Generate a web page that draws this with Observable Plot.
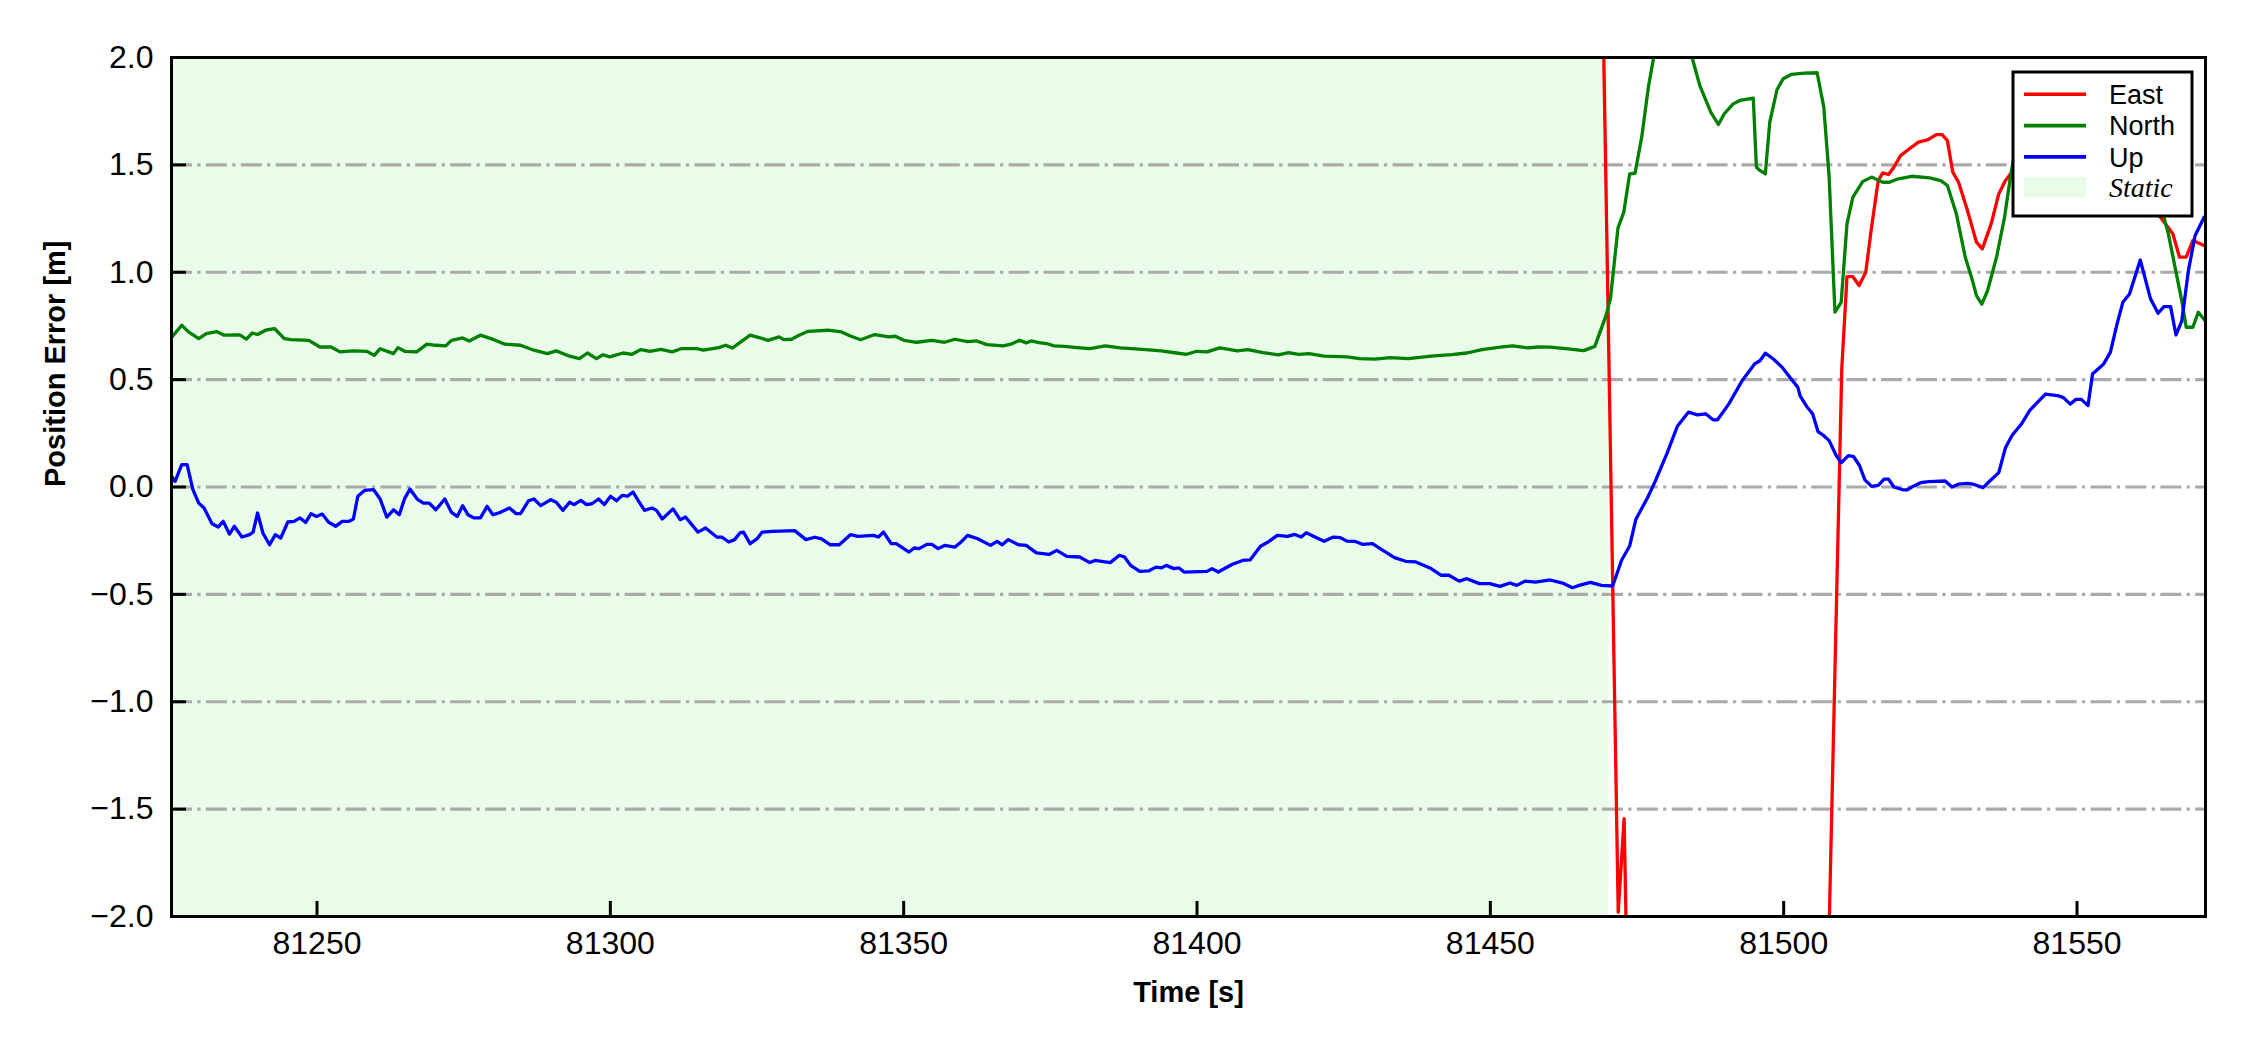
<!DOCTYPE html>
<html><head><meta charset="utf-8">
<script src="https://cdn.jsdelivr.net/npm/d3@7"></script>
<script src="https://cdn.jsdelivr.net/npm/@observablehq/plot@0.6"></script>
<style>html,body{margin:0;padding:0;background:#fff;}#chart{width:2250px;height:1050px;}</style>
</head><body><div id="chart"></div>
<script>
// ---- data ----
const xDomain = [81225.2, 81571.9];
const yDomain = [-2, 2];
const xTicks = [81250, 81300, 81350, 81400, 81450, 81500, 81550];
const yTicks = [-2, -1.5, -1, -0.5, 0, 0.5, 1, 1.5, 2];
const gridY = [-1.5, -1, -0.5, 0, 0.5, 1, 1.5];
const staticSpan = [{start: 81225.2, end: 81470.2}];
const seriesNames = ["East", "North", "Up"];
const seriesColors = ["#ff0000", "#008000", "#0000ff"];
const staticLabel = "Static";

const eastT = [81468.8, 81471.8, 81472.8, 81473.8, 81506.8, 81509.9, 81510.79, 81511.78, 81512.85, 81513.99, 81514.98, 81516.12, 81516.88, 81517.87, 81518.78, 81519.92, 81521.44, 81522.97, 81524.49, 81526.01, 81527.0, 81527.91, 81528.82, 81529.81, 81531.33, 81532.86, 81533.85, 81535.37, 81536.66, 81537.8, 81539.32, 81543, 81548, 81553, 81558, 81563, 81566.33, 81567.47, 81568.61, 81569.75, 81571.66];
const eastV = [2.87, -1.98, -1.544, -3.0, -3.2, 0.55, 0.98, 0.98, 0.938, 1.0, 1.21, 1.427, 1.463, 1.455, 1.489, 1.543, 1.575, 1.606, 1.616, 1.641, 1.641, 1.613, 1.466, 1.419, 1.287, 1.14, 1.109, 1.225, 1.365, 1.427, 1.481, 1.6, 1.65, 1.58, 1.45, 1.3, 1.179, 1.07, 1.07, 1.148, 1.125];

const northT = [81225.2, 81226.95, 81228.09, 81229.84, 81231.13, 81232.87, 81234.17, 81236.83, 81237.97, 81238.95, 81239.87, 81241.23, 81242.75, 81244.43, 81245.56, 81248.6, 81250.5, 81252.4, 81253.92, 81256.2, 81258.48, 81259.77, 81260.76, 81263.04, 81263.8, 81264.94, 81266.99, 81268.74, 81270.26, 81271.93, 81272.92, 81274.82, 81275.96, 81277.86, 81280.14, 81282.04, 81284.7, 81286.98, 81289.26, 81290.78, 81293.06, 81294.73, 81296.1, 81297.62, 81298.76, 81299.9, 81302.17, 81303.69, 81305.21, 81306.73, 81308.63, 81310.53, 81312.05, 81314.71, 81315.85, 81318.51, 81319.65, 81320.79, 81323.83, 81325.35, 81326.87, 81328.77, 81329.53, 81330.9, 81332.19, 81333.71, 81337.13, 81339.41, 81340.92, 81342.66, 81345.09, 81347.43, 81348.56, 81350.04, 81352.21, 81354.82, 81356.99, 81358.72, 81360.89, 81362.46, 81364.19, 81366.97, 81368.27, 81369.75, 81370.88, 81371.75, 81373.05, 81374.35, 81375.65, 81377.39, 81379.56, 81381.73, 81384.34, 81386.94, 81391.28, 81393.89, 81396.49, 81398.23, 81399.97, 81401.7, 81403.87, 81406.91, 81408.65, 81411.25, 81413.86, 81415.6, 81417.33, 81419.07, 81421.67, 81425.58, 81427.75, 81430.36, 81432.96, 81436.0, 81439.91, 81443.38, 81445.98, 81448.59, 81452.06, 81453.8, 81456.4, 81458.14, 81460.2, 81463.24, 81465.91, 81467.81, 81469.71, 81470.47, 81471.76, 81472.75, 81473.74, 81474.66, 81475.8, 81476.94, 81477.85, 81479.5, 81481.5, 81483.2, 81484.39, 81485.69, 81487.59, 81488.88, 81489.87, 81491.39, 81492.53, 81494.82, 81495.35, 81495.81, 81496.87, 81497.63, 81498.85, 81499.91, 81501.28, 81503.57, 81505.7, 81506.84, 81507.75, 81508.74, 81509.8, 81510.79, 81511.78, 81513.46, 81514.98, 81516.88, 81518.02, 81519.54, 81521.82, 81524.87, 81526.77, 81527.91, 81529.43, 81530.95, 81532.1, 81532.86, 81533.77, 81534.76, 81536.28, 81537.65, 81538.56, 81539.32, 81542, 81546, 81550, 81555, 81560, 81564.81, 81565.57, 81566.71, 81567.85, 81568.61, 81569.75, 81570.67, 81571.81];
const northV = [0.696, 0.753, 0.722, 0.691, 0.714, 0.724, 0.707, 0.708, 0.689, 0.717, 0.71, 0.73, 0.738, 0.691, 0.686, 0.683, 0.652, 0.652, 0.629, 0.634, 0.632, 0.613, 0.644, 0.621, 0.649, 0.632, 0.629, 0.665, 0.66, 0.657, 0.683, 0.694, 0.68, 0.707, 0.686, 0.665, 0.66, 0.637, 0.621, 0.634, 0.609, 0.598, 0.624, 0.598, 0.616, 0.606, 0.624, 0.618, 0.64, 0.632, 0.641, 0.629, 0.644, 0.644, 0.637, 0.649, 0.66, 0.647, 0.707, 0.696, 0.683, 0.699, 0.686, 0.688, 0.707, 0.725, 0.73, 0.722, 0.703, 0.686, 0.71, 0.699, 0.702, 0.683, 0.674, 0.683, 0.674, 0.688, 0.677, 0.68, 0.663, 0.657, 0.665, 0.683, 0.671, 0.68, 0.672, 0.668, 0.657, 0.655, 0.649, 0.644, 0.657, 0.648, 0.64, 0.634, 0.624, 0.618, 0.632, 0.629, 0.648, 0.634, 0.64, 0.626, 0.615, 0.626, 0.618, 0.621, 0.609, 0.606, 0.598, 0.595, 0.602, 0.598, 0.609, 0.616, 0.624, 0.64, 0.652, 0.657, 0.648, 0.652, 0.651, 0.643, 0.635, 0.655, 0.798, 0.876, 1.207, 1.28, 1.458, 1.461, 1.629, 1.862, 2.002, 2.2, 2.27, 2.15, 2.0, 1.87, 1.745, 1.688, 1.738, 1.784, 1.8, 1.811, 1.489, 1.477, 1.458, 1.699, 1.849, 1.901, 1.921, 1.927, 1.929, 1.769, 1.443, 0.814, 0.86, 1.225, 1.349, 1.422, 1.443, 1.419, 1.419, 1.435, 1.447, 1.439, 1.427, 1.404, 1.272, 1.07, 0.969, 0.891, 0.852, 0.915, 1.07, 1.256, 1.427, 1.551, 1.72, 1.8, 1.75, 1.55, 1.35, 1.256, 1.179, 1.023, 0.868, 0.744, 0.744, 0.814, 0.775];

const upT = [81225.2, 81225.81, 81226.95, 81227.86, 81228.85, 81229.84, 81230.75, 81232.11, 81233.18, 81234.01, 81235.08, 81235.91, 81237.21, 81238.5, 81239.11, 81239.87, 81240.78, 81241.92, 81242.9, 81243.82, 81245.03, 81246.1, 81247.08, 81248.07, 81248.98, 81249.9, 81250.88, 81252.02, 81253.16, 81254.3, 81255.44, 81256.2, 81256.96, 81258.1, 81259.62, 81260.76, 81261.9, 81263.04, 81264.03, 81264.94, 81265.85, 81267.07, 81268.13, 81269.12, 81270.26, 81271.78, 81272.92, 81273.91, 81274.82, 81275.73, 81276.72, 81277.86, 81279.0, 81279.99, 81281.28, 81282.8, 81283.94, 81284.7, 81286.07, 81286.98, 81288.12, 81289.87, 81290.78, 81291.92, 81293.06, 81293.82, 81294.96, 81295.94, 81296.86, 81298.0, 81298.98, 81300.05, 81301.04, 81302.02, 81302.94, 81303.85, 81304.84, 81305.82, 81307.11, 81307.87, 81308.86, 81310.69, 81311.9, 81312.82, 81314.94, 81316.23, 81318.13, 81319.05, 81320.19, 81321.18, 81322.09, 81322.7, 81323.83, 81324.98, 81325.89, 81327.64, 81331.43, 81333.33, 81334.85, 81335.99, 81337.51, 81339.03, 81340.92, 81342.23, 81344.83, 81345.7, 81346.57, 81347.87, 81348.74, 81350.91, 81351.78, 81352.64, 81353.95, 81354.82, 81355.86, 81356.99, 81358.72, 81359.59, 81360.89, 81362.63, 81364.8, 81365.93, 81366.8, 81367.84, 81369.58, 81370.88, 81372.62, 81374.79, 81376.09, 81377.82, 81380.0, 81381.73, 81382.6, 81385.21, 81386.77, 81387.64, 81388.68, 81390.24, 81391.72, 81393.02, 81393.89, 81394.76, 81396.06, 81396.93, 81397.8, 81401.7, 81402.57, 81403.61, 81406.04, 81407.78, 81409.08, 81410.82, 81412.12, 81413.68, 81415.42, 81416.64, 81417.77, 81418.63, 81420.11, 81421.67, 81423.24, 81424.45, 81425.58, 81426.88, 81428.18, 81429.92, 81431.22, 81433.66, 81435.56, 81437.3, 81439.91, 81441.64, 81442.94, 81444.68, 81445.98, 81448.15, 81449.89, 81451.63, 81453.36, 81454.49, 81455.97, 81457.71, 81460.2, 81462.48, 81464.0, 81465.15, 81467.05, 81468.95, 81470.85, 81472.37, 81473.74, 81474.81, 81476.79, 81478.08, 81480.13, 81481.88, 81483.79, 81485.31, 81486.68, 81487.97, 81488.73, 81490.63, 81492.91, 81495.04, 81495.96, 81496.87, 81498.24, 81499.76, 81501.28, 81502.42, 81502.8, 81503.95, 81504.93, 81505.85, 81506.76, 81507.75, 81508.89, 81509.8, 81511.02, 81511.93, 81512.92, 81513.84, 81514.98, 81516.12, 81517.11, 81517.87, 81518.78, 81520.3, 81521.06, 81522.2, 81523.35, 81524.72, 81527.53, 81528.67, 81529.81, 81531.33, 81532.32, 81533.99, 81535.14, 81536.66, 81537.8, 81538.94, 81540.46, 81541.98, 81543.13, 81544.65, 81546.93, 81547.69, 81548.83, 81549.82, 81550.73, 81551.88, 81552.64, 81554.54, 81555.68, 81556.82, 81557.81, 81558.95, 81560.78, 81562.53, 81563.82, 81564.81, 81565.95, 81566.87, 81567.85, 81568.99, 81570.13, 81571.66];
const upV = [0.05, 0.026, 0.104, 0.104, -0.012, -0.075, -0.098, -0.171, -0.186, -0.16, -0.219, -0.183, -0.233, -0.222, -0.21, -0.121, -0.214, -0.269, -0.222, -0.238, -0.163, -0.16, -0.144, -0.165, -0.124, -0.137, -0.126, -0.165, -0.183, -0.16, -0.16, -0.149, -0.043, -0.016, -0.012, -0.056, -0.14, -0.106, -0.129, -0.054, -0.009, -0.056, -0.075, -0.075, -0.106, -0.056, -0.118, -0.137, -0.087, -0.129, -0.144, -0.144, -0.09, -0.129, -0.118, -0.098, -0.124, -0.124, -0.064, -0.056, -0.087, -0.059, -0.071, -0.109, -0.071, -0.082, -0.062, -0.082, -0.078, -0.056, -0.082, -0.043, -0.064, -0.039, -0.043, -0.023, -0.067, -0.109, -0.098, -0.109, -0.149, -0.102, -0.152, -0.14, -0.21, -0.191, -0.233, -0.234, -0.256, -0.245, -0.214, -0.21, -0.264, -0.242, -0.21, -0.207, -0.203, -0.245, -0.234, -0.242, -0.269, -0.269, -0.222, -0.23, -0.225, -0.233, -0.21, -0.264, -0.264, -0.303, -0.284, -0.287, -0.267, -0.267, -0.287, -0.272, -0.28, -0.261, -0.225, -0.241, -0.272, -0.253, -0.269, -0.245, -0.269, -0.272, -0.307, -0.314, -0.295, -0.323, -0.326, -0.352, -0.342, -0.352, -0.318, -0.326, -0.365, -0.393, -0.391, -0.373, -0.377, -0.365, -0.38, -0.377, -0.396, -0.393, -0.38, -0.396, -0.36, -0.342, -0.339, -0.276, -0.256, -0.225, -0.23, -0.221, -0.233, -0.213, -0.233, -0.253, -0.233, -0.236, -0.252, -0.253, -0.267, -0.264, -0.287, -0.329, -0.346, -0.349, -0.38, -0.411, -0.411, -0.438, -0.427, -0.45, -0.45, -0.463, -0.447, -0.458, -0.438, -0.443, -0.433, -0.449, -0.469, -0.458, -0.444, -0.458, -0.461, -0.341, -0.275, -0.15, -0.05, 0.025, 0.158, 0.283, 0.349, 0.336, 0.341, 0.313, 0.313, 0.386, 0.495, 0.573, 0.588, 0.623, 0.596, 0.557, 0.503, 0.464, 0.424, 0.374, 0.341, 0.258, 0.241, 0.216, 0.15, 0.113, 0.146, 0.141, 0.1, 0.033, 0.003, 0.008, 0.037, 0.037, 0.0, -0.013, -0.013, 0.005, 0.02, 0.025, 0.028, 0.0, 0.013, 0.017, 0.013, -0.003, 0.028, 0.067, 0.183, 0.241, 0.291, 0.358, 0.391, 0.433, 0.424, 0.416, 0.386, 0.408, 0.408, 0.379, 0.526, 0.573, 0.627, 0.759, 0.86, 0.899, 1.057, 0.876, 0.809, 0.84, 0.84, 0.708, 0.772, 1.008, 1.171, 1.256];

// ---- layout ----
const W = 2250, H = 1050, mL = 171, mR = 45, mT = 57, mB = 134;
const innerW = W - mL - mR, innerH = H - mT - mB;
const sans = "'Liberation Sans', Arial, Helvetica, sans-serif";
const rows = (t, v) => t.map((d, i) => ({t: d, v: v[i]}));
const series = [rows(eastT, eastV), rows(northT, northV), rows(upT, upV)];
const fmtX = d3.format("d"), fmtY = d3.format(".1f");
const staticFill = "#e9fce9";

const plot = Plot.plot({
  width: W, height: H,
  marginLeft: mL, marginRight: mR, marginTop: mT, marginBottom: mB,
  style: {fontFamily: sans, fontSize: "32px", background: "#fff", color: "#000", overflow: "visible"},
  x: {domain: xDomain, ticks: xTicks, tickFormat: fmtX},
  y: {domain: yDomain, ticks: yTicks, tickFormat: fmtY},
  marks: [
    Plot.rect(staticSpan, {x1: "start", x2: "end", fill: staticFill}),
    Plot.ruleY(gridY, {stroke: "#aaaaaa", strokeWidth: 3.2, strokeDasharray: "21 5.3 3.3 5.3"}),
    ...series.map((s, i) => Plot.line(s, {x: "t", y: "v", stroke: seriesColors[i], strokeWidth: 3.3, strokeLinejoin: "round", clip: true})),
    Plot.tickX(xTicks, {x: d => d, insetTop: innerH - 15, stroke: "#000", strokeWidth: 3}),
    Plot.tickY(yTicks, {y: d => d, insetRight: innerW - 15, stroke: "#000", strokeWidth: 3}),
    Plot.frame({stroke: "#000", strokeWidth: 3}),
    Plot.axisX({ticks: xTicks, tickFormat: fmtX, tickSize: 0, tickPadding: 15, label: null, fontSize: 32}),
    Plot.axisY({ticks: yTicks, tickFormat: fmtY, tickSize: 0, tickPadding: 18, label: null, fontSize: 32}),
    Plot.text(["Time [s]"], {text: d => d, frameAnchor: "bottom", dy: 85, lineAnchor: "bottom", fontWeight: "bold", fontSize: 29}),
    Plot.text(["Position Error [m]"], {text: d => d, frameAnchor: "left", dx: -107, rotate: -90, lineAnchor: "bottom", fontWeight: "bold", fontSize: 29})
  ]
});

// ---- legend (upper right, inside frame) ----
const svg = d3.select(plot);
const lg = svg.append("g").attr("class", "legend").attr("text-anchor", "start");
const bx = 2013, by = 72, bw = 179, bh = 144, rowH = 31.3, row0 = 94.3;
lg.append("rect").attr("x", bx).attr("y", by).attr("width", bw).attr("height", bh)
  .attr("fill", "#fff").attr("stroke", "#000").attr("stroke-width", 3);
seriesNames.forEach((name, i) => {
  const cy = row0 + i * rowH;
  lg.append("line").attr("x1", 2024).attr("x2", 2086).attr("y1", cy).attr("y2", cy)
    .attr("stroke", seriesColors[i]).attr("stroke-width", 3.6);
  lg.append("text").attr("x", 2109).attr("y", cy + 9.7).attr("font-family", sans)
    .attr("text-anchor", "start").attr("font-size", 27).attr("fill", "#000").text(name);
});
{
  const cy = row0 + 3 * rowH;
  lg.append("rect").attr("x", 2024).attr("y", cy - 11).attr("width", 62).attr("height", 20).attr("fill", staticFill);
  lg.append("text").attr("x", 2109).attr("y", cy + 9).attr("font-family", "'Liberation Serif', 'Times New Roman', serif")
    .attr("text-anchor", "start").attr("font-style", "italic").attr("font-size", 28).attr("fill", "#000").text(staticLabel);
}
document.getElementById("chart").appendChild(plot);
</script>
</body></html>
